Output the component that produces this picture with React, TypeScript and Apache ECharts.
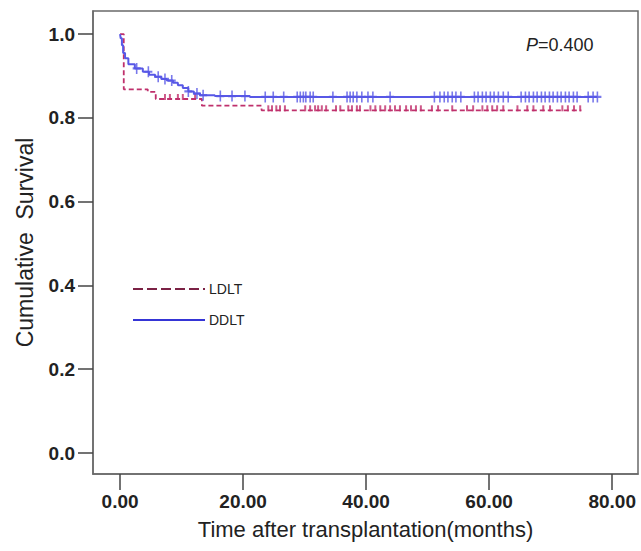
import React, { useEffect, useRef } from "react";
import * as echarts from "echarts";

// Kaplan-Meier step data (time in months, cumulative survival)
const ldltTimes = [0, 0.6, 4.5, 5.8, 13.3, 23.0, 75.0];
const ldltSurv = [1.0, 0.868, 0.862, 0.845, 0.829, 0.818, 0.818];

const ddltTimes = [0, 0.1, 0.3, 0.5, 0.81, 1.35, 2.4, 3.7, 4.7, 5.7, 6.7, 7.6, 8.6, 9.4, 10.2, 11.1, 12.0, 13.0, 15.4, 21.1, 77.6];
const ddltSurv = [1.0, 0.99, 0.973, 0.955, 0.942, 0.928, 0.918, 0.91, 0.903, 0.898, 0.893, 0.889, 0.884, 0.878, 0.871, 0.863, 0.858, 0.854, 0.852, 0.85, 0.85];

// censoring times
const ldltCensor = [7.3, 8.1, 9.4, 10.2, 12.2, 24.1, 24.7, 25.4, 26.0, 26.8, 30.1, 30.9, 31.7, 32.2, 32.8, 33.5, 35.1, 35.8, 37.1, 37.7, 38.5, 39.0, 40.7, 41.5, 42.3, 43.1, 43.9, 44.7, 45.5, 46.5, 47.3, 48.1, 48.9, 50.7, 51.7, 54.0, 56.4, 57.4, 58.9, 59.7, 60.5, 61.3, 62.3, 64.6, 66.2, 67.2, 68.8, 69.9, 71.9, 72.8, 73.8, 74.8];
const ddltCensor = [2.7, 4.6, 6.2, 7.3, 8.4, 11.1, 12.5, 13.5, 16.3, 18.2, 20.3, 23.6, 24.9, 26.6, 28.8, 29.3, 29.8, 30.2, 30.9, 31.4, 34.6, 36.9, 37.4, 37.9, 38.5, 39.3, 40.3, 41.1, 43.9, 51.1, 52.0, 52.7, 53.3, 54.0, 54.6, 55.4, 57.6, 58.2, 58.9, 59.5, 60.2, 60.8, 61.5, 62.3, 63.1, 65.2, 65.9, 66.5, 67.2, 67.8, 68.5, 69.1, 69.8, 70.4, 71.1, 71.7, 72.4, 73.0, 73.7, 74.3, 76.1, 76.9, 77.6];

const xTicks = [0, 20, 40, 60, 80];
const yTicks = [0, 0.2, 0.4, 0.6, 0.8, 1.0];
const legendNames = ["LDLT", "DDLT"];

const FONT = "'Liberation Sans', Arial, sans-serif";

function survAt(times: number[], surv: number[], t: number) {
  let s = surv[0];
  for (let i = 0; i < times.length; i++) {
    if (times[i] <= t) s = surv[i];
  }
  return s;
}

export default function App() {
  const ref = useRef<HTMLDivElement>(null);
  useEffect(() => {
    if (!ref.current) return;
    const chart = echarts.init(ref.current, null, { renderer: "svg" });
    const axisColor = "#6a6a6a";
    chart.setOption({
      animation: false,
      backgroundColor: "#ffffff",
      grid: {
        left: 93,
        top: 11,
        right: 3,
        bottom: 77,
        show: true,
        borderColor: axisColor,
        borderWidth: 1.5,
        containLabel: false,
        outerBoundsMode: "none",
      },
      xAxis: {
        type: "value",
        min: -4.4,
        max: 84.2,
        splitLine: { show: false },
        axisLine: { show: true, onZero: false, lineStyle: { color: axisColor, width: 1.5 } },
        axisTick: { show: true, customValues: xTicks, length: 16, lineStyle: { color: "#444", width: 1.5 } },
        axisLabel: {
          customValues: xTicks,
          formatter: (v: number) => v.toFixed(2),
          margin: 18,
          fontSize: 19,
          fontWeight: "bold",
          color: "#222",
          fontFamily: FONT,
        },
        name: "Time after transplantation(months)",
        nameLocation: "middle",
        nameGap: 44,
        nameTextStyle: { fontSize: 22, color: "#222", fontFamily: FONT },
      },
      yAxis: {
        type: "value",
        min: -0.05,
        max: 1.055,
        splitLine: { show: false },
        axisLine: { show: true, onZero: false, lineStyle: { color: axisColor, width: 1.5 } },
        axisTick: { show: true, customValues: yTicks, length: 15, lineStyle: { color: "#444", width: 1.5 } },
        axisLabel: {
          customValues: yTicks,
          formatter: (v: number) => v.toFixed(1),
          margin: 18,
          fontSize: 19,
          fontWeight: "bold",
          color: "#222",
          fontFamily: FONT,
        },
        name: "Cumulative  Survival",
        nameLocation: "middle",
        nameGap: 57,
        nameTextStyle: { fontSize: 23, color: "#222", fontFamily: FONT },
      },
      series: [
        {
          name: "LDLT",
          type: "line",
          step: "end",
          symbol: "none",
          showSymbol: false,
          lineStyle: { color: "#bf306c", type: [5, 3], width: 1.8 },
          itemStyle: { color: "#bf306c" },
          data: ldltTimes.map((t, i) => [t, ldltSurv[i]]),
          z: 2,
        },
        {
          name: "DDLT",
          type: "line",
          step: "end",
          symbol: "none",
          showSymbol: false,
          lineStyle: { color: "#5858e6", type: "solid", width: 2 },
          itemStyle: { color: "#5858e6" },
          data: ddltTimes.map((t, i) => [t, ddltSurv[i]]),
          z: 3,
        },
        {
          name: "LDLT censored",
          type: "scatter",
          symbol: "rect",
          symbolSize: [2, 6],
          symbolOffset: [0, -2],
          itemStyle: { color: "#c0306c" },
          data: ldltCensor.map((t) => [t, survAt(ldltTimes, ldltSurv, t)]),
          z: 2,
        },
        {
          name: "DDLT censored",
          type: "scatter",
          symbol: "path://M4,0h2v4h4v2h-4v4h-2v-4h-4v-2h4z",
          symbolSize: [8, 11],
          itemStyle: { color: "#5858e6" },
          data: ddltCensor.map((t) => [t, survAt(ddltTimes, ddltSurv, t)]),
          z: 3,
        },
      ],
      graphic: [
        {
          type: "text",
          left: 526,
          top: 36,
          style: {
            text: "{i|P}=0.400",
            font: `18px ${FONT}`,
            fill: "#222",
            rich: {
              i: { fontStyle: "italic", fontSize: 18, fontFamily: FONT, fill: "#222" },
            },
          },
        },
        {
          type: "line",
          shape: { x1: 133, y1: 289, x2: 205, y2: 289 },
          style: { stroke: "#7b2245", lineWidth: 2, lineDash: [10, 4] },
        },
        {
          type: "text",
          x: 209,
          y: 289,
          style: { text: legendNames[0], font: `14px ${FONT}`, fill: "#222", verticalAlign: "middle" },
        },
        {
          type: "line",
          shape: { x1: 133, y1: 320, x2: 205, y2: 320 },
          style: { stroke: "#3535d6", lineWidth: 2 },
        },
        {
          type: "text",
          x: 209,
          y: 320,
          style: { text: legendNames[1], font: `14px ${FONT}`, fill: "#222", verticalAlign: "middle" },
        },
      ],
    });
    return () => chart.dispose();
  }, []);
  return (
    <div
      ref={ref}
      style={{ position: "fixed", left: 0, top: 0, width: 641, height: 551 }}
    />
  );
}
